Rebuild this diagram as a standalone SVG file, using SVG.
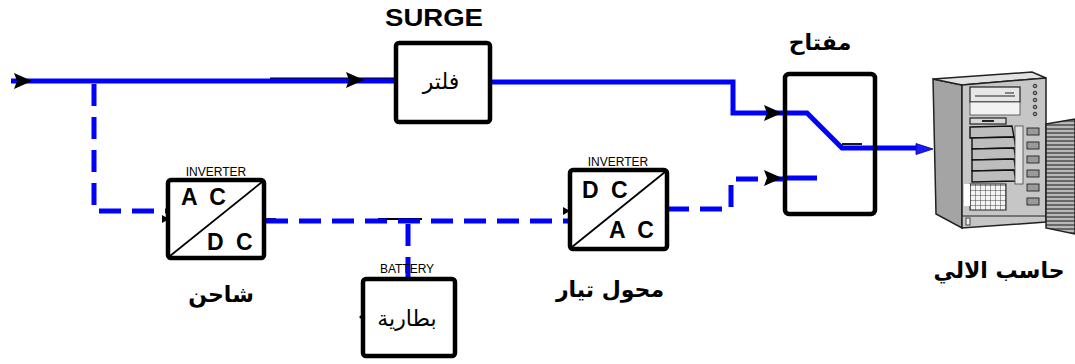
<svg xmlns="http://www.w3.org/2000/svg" width="1075" height="364" viewBox="0 0 1075 364">
  <defs>
    <style>
      .box { fill: #ffffff; stroke: #000000; stroke-width: 4.5; }
      .frame { fill: none; stroke: #000000; stroke-width: 4.5; }
      .wire { fill: none; stroke: #0000ff; stroke-width: 5; }
      .dash { fill: none; stroke: #0000ff; stroke-width: 5; stroke-dasharray: 22 11; }
      .thin { fill: none; stroke: #000000; stroke-width: 1.8; }
      .tag { font-family: "Liberation Sans", Arial, sans-serif; font-size: 12px; fill: #000; text-anchor: middle; }
      .conv { font-family: "Liberation Sans", Arial, sans-serif; font-size: 23px; font-weight: bold; fill: #000; letter-spacing: 3px; }
      .ar { font-family: "DejaVu Sans", "Noto Sans", sans-serif; font-size: 22px; fill: #000; text-anchor: middle; }
      .arb { font-family: "DejaVu Sans", "Noto Sans", sans-serif; font-size: 22px; font-weight: bold; fill: #000; text-anchor: middle; }
      .title { font-family: "Liberation Sans", Arial, sans-serif; font-size: 23px; font-weight: bold; fill: #000; text-anchor: middle; }
      .head { fill: #000000; }
      .pc-line { fill: none; stroke: #222; stroke-width: 1.2; }
    </style>
    <path id="tri" d="M0,-8 L18,0 L0,8 L3,0 Z"/>
    <path id="tri-s" d="M0,-4 L7,0 L0,4 Z"/>
    <pattern id="louver" width="6" height="4" patternUnits="userSpaceOnUse">
      <rect width="6" height="4" fill="#b8b8b8"/>
      <line x1="0" y1="1" x2="6" y2="1" stroke="#333" stroke-width="1.2"/>
    </pattern>
    <pattern id="vent" width="5" height="5" patternUnits="userSpaceOnUse">
      <rect width="5" height="5" fill="#f4f4f4"/>
      <path d="M0,0 H5 M0,0 V5" stroke="#333" stroke-width="0.9"/>
    </pattern>
  </defs>

  <rect width="1075" height="364" fill="#ffffff"/>

  <!-- wiring between the blocks -->
  <g id="connectors">
    <!-- mains input line to the surge filter -->
    <path class="thin" d="M270,78.5 H396"/>
    <path class="wire" d="M11,81 H396"/>
    <use href="#tri" class="head" transform="translate(14,81)"/>
    <use href="#tri" class="head" transform="translate(346,80)"/>

    <!-- filtered line into the switch -->
    <path class="wire" d="M490,82 H733 V113 H785"/>
    <use href="#tri" class="head" transform="translate(764,113)"/>

    <!-- branch down to the charger -->
    <path class="dash" d="M94,84 V211 H168" stroke-dasharray="20 12 14 12 5 12 10 8"/>
    <use href="#tri-s" class="head" transform="translate(162,219)"/>

    <!-- DC bus: charger to inverter, with battery tap -->
    <path class="thin" d="M264,219 H276"/>
    <path class="thin" d="M378,219 H422"/>
    <path class="dash" d="M266,221 H570"/>
    <path class="dash" d="M408,224 V278" stroke-dasharray="17 10"/>
    <use href="#tri-s" class="head" transform="translate(563,211)"/>
    <circle cx="361" cy="317" r="1.6" fill="#000"/>

    <!-- inverter output into the switch -->
    <path class="dash" d="M667,209 H731 V179 H785" stroke-dasharray="12 9 30 9"/>
    <use href="#tri" class="head" transform="translate(764,178)"/>

    <!-- switch contacts -->
    <path class="wire" d="M785,113 H807 L842,148 H920"/>
    <path class="thin" d="M842,144 H862"/>
    <path class="wire" stroke-width="4" d="M785,178 H817"/>
    <path d="M916,143.5 L933,149 L916,154.5 Z" fill="#1a1aff" stroke="#000080" stroke-width="0.8"/>
  </g>

  <!-- surge filter -->
  <g id="surge-filter">
    <text class="title" x="434" y="26" textLength="98" lengthAdjust="spacingAndGlyphs">SURGE</text>
    <rect class="box" x="396" y="43" width="94" height="79" rx="3"/>
    <text class="ar" x="441" y="89" font-size="21">فلتر</text>
  </g>

  <!-- charger (AC to DC) -->
  <g id="charger">
    <text class="tag" x="216" y="176">INVERTER</text>
    <rect class="box" x="168" y="180" width="96" height="78" rx="3"/>
    <path class="thin" stroke-width="2.2" d="M170,256 L262,182"/>
    <text class="conv" x="181" y="205">A C</text>
    <text class="conv" x="207" y="250">D C</text>
    <text class="arb" x="221" y="302" font-size="23">شاحن</text>
  </g>

  <!-- battery -->
  <g id="battery">
    <text class="tag" x="407" y="273">BATTERY</text>
    <rect class="box" x="363" y="279" width="92" height="77" rx="3"/>
    <text class="ar" x="407" y="326" font-size="26">بطارية</text>
  </g>

  <!-- inverter (DC to AC) -->
  <g id="inverter">
    <text class="tag" x="618" y="166">INVERTER</text>
    <rect class="box" x="570" y="170" width="97" height="79" rx="3"/>
    <path class="thin" stroke-width="2.2" d="M572,247 L665,172"/>
    <text class="conv" x="582" y="198">D C</text>
    <text class="conv" x="609" y="238">A C</text>
    <text class="arb" x="610" y="297" font-size="23">محول تيار</text>
  </g>

  <!-- transfer switch -->
  <g id="switch">
    <text class="arb" x="820" y="50" font-size="21">مفتاح</text>
    <rect class="frame" x="785" y="74" width="90" height="140" rx="4"/>
  </g>

  <!-- computer tower -->
  <g id="computer">
    <polygon points="933,79 962,85 962,228 936,214" fill="#a4a4a4" stroke="#222" stroke-width="1.5"/>
    <polygon points="933,79 1032,72 1046,78 962,85" fill="#e2e2e2" stroke="#222" stroke-width="1.5"/>
    <polygon points="962,85 1046,78 1046,222 962,228" fill="#c6c6c6" stroke="#222" stroke-width="1.5"/>
    <!-- optical drive -->
    <rect x="970" y="87" width="50" height="15" fill="#e6e6e6" stroke="#222" stroke-width="1.2"/>
    <path class="pc-line" d="M975,96 H1015 M1005,93 H1014"/>
    <rect x="970" y="102" width="50" height="13" fill="#f2f2f2" stroke="#444" stroke-width="0.8"/>
    <!-- floppy -->
    <rect x="970" y="118" width="36" height="6" fill="#d8d8d8" stroke="#222" stroke-width="1.2"/>
    <rect x="982" y="120" width="12" height="2" fill="#222"/>
    <!-- drive bays -->
    <g fill="#bdbdbd" stroke="#111" stroke-width="1.4">
      <polygon points="970,127 1012,126 1014,137 970,138"/>
      <polygon points="972,138 1014,137 1016,148 972,149"/>
      <polygon points="972,149 1014,148 1016,159 972,160"/>
      <polygon points="972,160 1014,159 1016,170 972,171"/>
      <polygon points="972,171 1014,170 1016,181 972,182"/>
    </g>
    <rect x="1015" y="126" width="8" height="58" fill="#e4e4e4" stroke="#444" stroke-width="0.8"/>
    <!-- ventilation grid -->
    <rect x="970" y="184" width="36" height="26" fill="url(#vent)" stroke="#222" stroke-width="1"/>
    <rect x="964" y="184" width="6" height="22" fill="#ffffff"/>
    <!-- status column -->
    <g fill="#9a9a9a" stroke="#222" stroke-width="0.9">
      <circle cx="1035" cy="86" r="1.8"/>
      <circle cx="1035" cy="93" r="1.8"/>
      <circle cx="1035" cy="100" r="1.8"/>
      <circle cx="1035" cy="107" r="1.8"/>
      <circle cx="1035" cy="114" r="1.8"/>
      <rect x="1027" y="128" width="12" height="7"/>
      <rect x="1027" y="142" width="12" height="7"/>
      <rect x="1027" y="156" width="12" height="7"/>
      <rect x="1027" y="170" width="12" height="7"/>
      <rect x="1027" y="184" width="12" height="7"/>
      <rect x="1027" y="198" width="12" height="7"/>
    </g>
    <path class="pc-line" d="M962,216 H1046"/>
    <rect x="966" y="218" width="4" height="7" fill="#eee" stroke="#222" stroke-width="0.8"/>
    <!-- open door -->
    <polygon points="1046,124 1075,119 1075,234 1046,228" fill="url(#louver)" stroke="#222" stroke-width="1.5"/>
    <text class="arb" x="999" y="278" font-size="23">حاسب الالي</text>
  </g>
</svg>
